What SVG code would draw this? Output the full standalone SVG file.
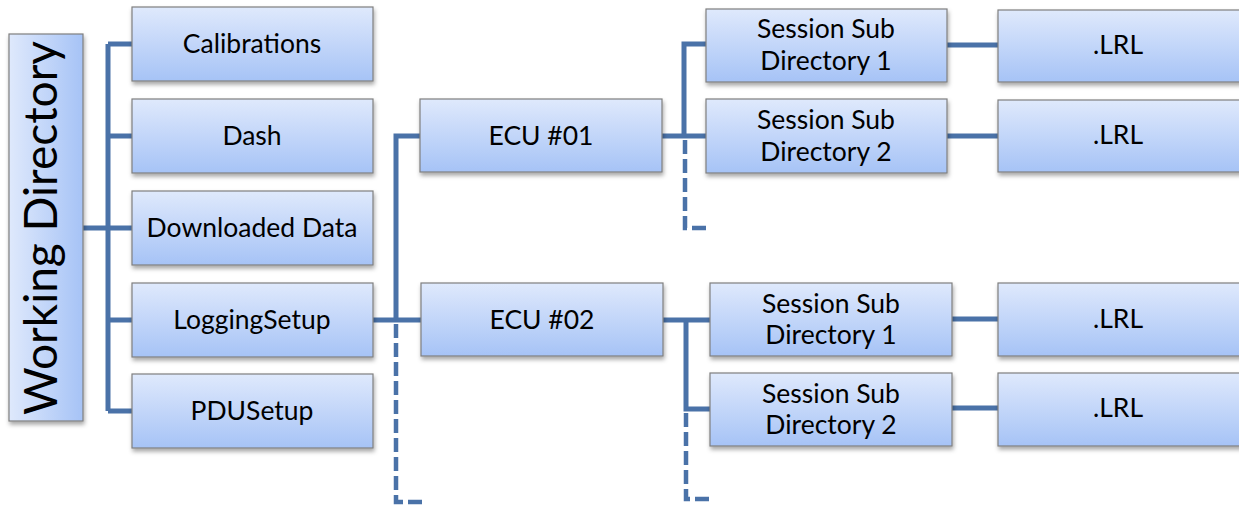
<svg xmlns="http://www.w3.org/2000/svg" width="1239" height="506" viewBox="0 0 1239 506">
<defs>
<linearGradient id="g" x1="0" y1="0" x2="0" y2="1">
<stop offset="0" stop-color="#dfe9fc"/>
<stop offset="1" stop-color="#a6c3f6"/>
</linearGradient>
<linearGradient id="gv" x1="0" y1="0" x2="1" y2="0">
<stop offset="0" stop-color="#dfe9fc"/>
<stop offset="1" stop-color="#a6c3f6"/>
</linearGradient>
<filter id="sh" x="-10%" y="-10%" width="120%" height="130%">
<feDropShadow dx="1" dy="3" stdDeviation="2" flood-color="#000" flood-opacity="0.35"/>
</filter>
</defs>
<style>
.box{fill:url(#g);stroke:#7f7f7f;stroke-width:1.2;filter:url(#sh)}
.t{font-family:Lato,"Open Sans","Liberation Sans",sans-serif;font-size:26.5px;fill:#000;text-anchor:middle}
.c{fill:none;stroke:#4a72a8;stroke-width:5}
.d{fill:none;stroke:#4a72a8;stroke-width:4.5;stroke-dasharray:14,5}
</style>
<g id="connectors">
<path class="c" d="M83 228 H108 M108 44 V411 M108 44 H132 M108 136 H132 M108 228 H132 M108 320 H132 M108 411 H132"/>
<path class="c" d="M373 320 H421 M396 320 V136 H420"/>
<path class="d" d="M396 324 V502 H422"/>
<path class="c" d="M662 136 H706 M684 136 V44 H706"/>
<path class="d" d="M685 140 V228 H708"/>
<path class="c" d="M663 320 H710 M686 320 V409 H710"/>
<path class="d" d="M686 413 V499 H712"/>
<path class="c" d="M947 45 H998 M947 136 H998 M952 319 H998 M952 408 H998"/>
</g>
<g id="wd">
<rect x="9" y="34" width="74" height="387" fill="url(#gv)" stroke="#7f7f7f" stroke-width="1.2" filter="url(#sh)"/>
<text class="t" style="font-size:46px" transform="translate(57 228) rotate(-90)" x="0" y="0">Working Directory</text>
</g>
<g id="calibrations"><rect class="box" x="132" y="7" width="241" height="74"/><text class="t" x="252" y="53">Calibrations</text></g>
<g id="dash"><rect class="box" x="132" y="99" width="241" height="74"/><text class="t" x="252" y="145">Dash</text></g>
<g id="downloaded"><rect class="box" x="132" y="191" width="241" height="74"/><text class="t" x="252" y="237">Downloaded Data</text></g>
<g id="loggingsetup"><rect class="box" x="132" y="283" width="241" height="74"/><text class="t" x="252" y="329">LoggingSetup</text></g>
<g id="pdusetup"><rect class="box" x="132" y="374" width="241" height="74"/><text class="t" x="252" y="420">PDUSetup</text></g>
<g id="ecu01"><rect class="box" x="420" y="99" width="242" height="73"/><text class="t" x="541" y="145">ECU #01</text></g>
<g id="ecu02"><rect class="box" x="421" y="283" width="242" height="73"/><text class="t" x="542" y="329">ECU #02</text></g>
<g id="s11"><rect class="box" x="706" y="9" width="241" height="73"/><text class="t" x="826" y="38">Session Sub</text><text class="t" x="826" y="70">Directory 1</text></g>
<g id="s12"><rect class="box" x="706" y="99" width="241" height="74"/><text class="t" x="826" y="129">Session Sub</text><text class="t" x="826" y="161">Directory 2</text></g>
<g id="s21"><rect class="box" x="710" y="283" width="242" height="73"/><text class="t" x="831" y="313">Session Sub</text><text class="t" x="831" y="344">Directory 1</text></g>
<g id="s22"><rect class="box" x="710" y="373" width="242" height="73"/><text class="t" x="831" y="403">Session Sub</text><text class="t" x="831" y="434">Directory 2</text></g>
<g id="lrl11"><rect class="box" x="998" y="10" width="250" height="72"/><text class="t" x="1118" y="54">.LRL</text></g>
<g id="lrl12"><rect class="box" x="998" y="100" width="250" height="72"/><text class="t" x="1118" y="144">.LRL</text></g>
<g id="lrl21"><rect class="box" x="998" y="283" width="250" height="73"/><text class="t" x="1118" y="328">.LRL</text></g>
<g id="lrl22"><rect class="box" x="998" y="373" width="250" height="73"/><text class="t" x="1118" y="417">.LRL</text></g>
</svg>
